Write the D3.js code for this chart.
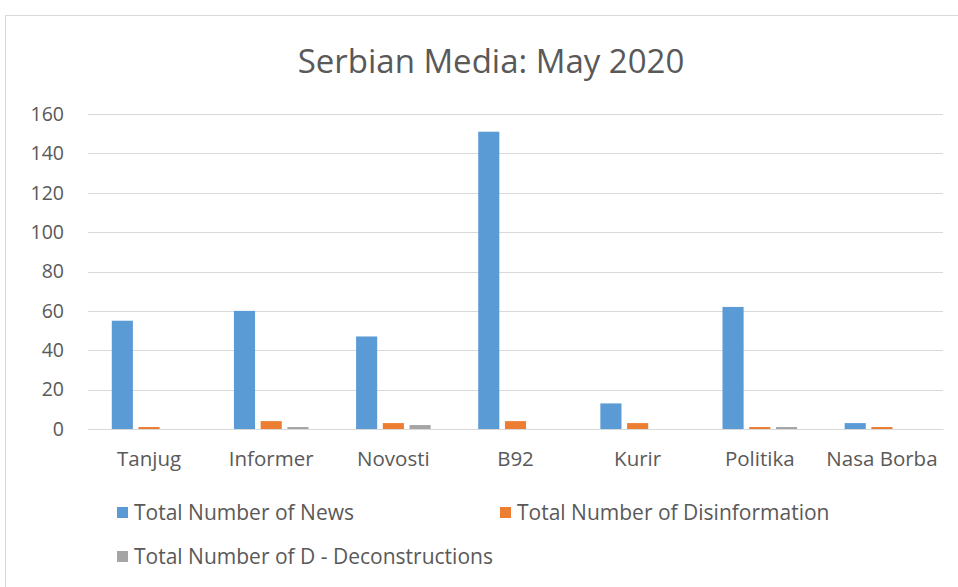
<!DOCTYPE html>
<html>
<head>
<meta charset="utf-8">
<script src="https://cdn.jsdelivr.net/npm/d3@7"></script>
<style>
  body { margin: 0; background: #fff; }
  svg { display: block; font-family: "Open Sans", "Liberation Sans", sans-serif; }
</style>
</head>
<body>
<svg id="chart" width="958" height="587"></svg>
<script>
const outlets = ["Tanjug", "Informer", "Novosti", "B92", "Kurir", "Politika", "Nasa Borba"]
const seriesNames = ["Total Number of News", "Total Number of Disinformation", "Total Number of D - Deconstructions"]
const newsTotals = [55, 60, 47, 151, 13, 62, 3]
const disinfoTotals = [1, 4, 3, 4, 3, 1, 1]
const deconTotals = [0, 1, 2, 0, 0, 1, 0]
const yTicks = [0, 20, 40, 60, 80, 100, 120, 140, 160]
const colors = ["#5b9bd5", "#ed7d31", "#a5a5a5"]

const allSeries = [newsTotals, disinfoTotals, deconTotals]

const svg = d3.select("#chart")
const margin = {left: 88, right: 15, top: 114, bottom: 158}
const width = 958, height = 587

// chart frame
svg.append("rect")
    .attr("x", 5.5).attr("y", 15.5)
    .attr("width", 960).attr("height", 600)
    .attr("fill", "#fff")
    .attr("stroke", "#d9d9d9")

svg.append("text")
    .attr("x", 491).attr("y", 73)
    .attr("text-anchor", "middle")
    .attr("font-size", 33)
    .attr("fill", "#595959")
    .text("Serbian Media: May 2020")

const x0 = d3.scaleBand()
    .domain(outlets)
    .range([margin.left, width - margin.right])
const x1 = d3.scaleBand()
    .domain(d3.range(seriesNames.length))
    .range([0, x0.bandwidth()])
    .paddingInner(0.21)
    .paddingOuter(0.89)
const y = d3.scaleLinear()
    .domain([0, 160])
    .range([height - margin.bottom, margin.top])

// gridlines
svg.append("g")
    .selectAll("line")
    .data(yTicks)
    .enter()
    .append("line")
    .attr("x1", margin.left)
    .attr("x2", width - margin.right)
    .attr("y1", d => Math.round(y(d)) + 0.5)
    .attr("y2", d => Math.round(y(d)) + 0.5)
    .attr("stroke", "#d9d9d9")
    .attr("stroke-width", 1)

// y axis labels
const yAxis = svg.append("g")
    .attr("transform", `translate(${margin.left - 24},0)`)
    .call(d3.axisLeft(y).tickValues(yTicks).tickSize(0).tickPadding(0))
yAxis.select(".domain").remove()
yAxis.selectAll("text")
    .attr("font-size", 19.5)
    .attr("font-family", "\"Open Sans\", sans-serif")
    .attr("fill", "#595959")

// bars
const groups = svg.append("g")
    .selectAll("g")
    .data(outlets)
    .enter()
    .append("g")
    .attr("transform", d => `translate(${x0(d)},0)`)

groups.selectAll("rect")
    .data((d, i) => allSeries.map((s, k) => ({k: k, v: s[i]})))
    .enter()
    .append("rect")
    .attr("x", d => x1(d.k))
    .attr("width", x1.bandwidth())
    .attr("y", d => y(d.v))
    .attr("height", d => y(0) - y(d.v))
    .attr("fill", d => colors[d.k])

// x axis baseline + labels
const xAxis = svg.append("g")
    .attr("transform", `translate(0,${y(0)})`)
    .call(d3.axisBottom(x0).tickSize(0).tickPadding(22))
xAxis.select(".domain")
    .attr("stroke", "#d9d9d9")
xAxis.selectAll("text")
    .attr("font-size", 20.5)
    .attr("font-family", "\"Open Sans\", sans-serif")
    .attr("fill", "#595959")

// legend
const legendPos = [[117, 513], [500, 513], [117, 557]]
const legend = svg.append("g")
    .selectAll("g")
    .data(seriesNames)
    .enter()
    .append("g")
    .attr("transform", (d, i) => `translate(${legendPos[i][0]},${legendPos[i][1]})`)
legend.append("rect")
    .attr("x", 0).attr("y", -6)
    .attr("width", 11).attr("height", 11)
    .attr("fill", (d, i) => colors[i])
legend.append("text")
    .attr("x", 17).attr("y", 7)
    .attr("font-size", 21)
    .attr("fill", "#595959")
    .text(d => d)
</script>
</body>
</html>
